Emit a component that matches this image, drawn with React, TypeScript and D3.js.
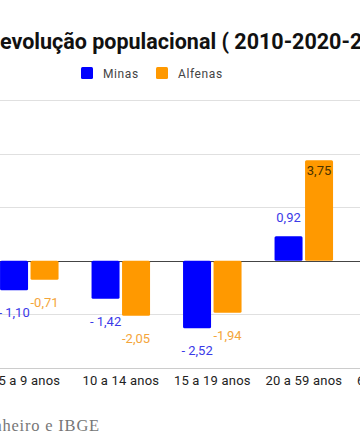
import React from "react";
import * as d3 from "d3";

const categories = ["5 a 9 anos", "10 a 14 anos", "15 a 19 anos", "20 a 59 anos", "60 a 79 anos"];
const seriesNames = ["Minas", "Alfenas"];
const minas: (number | null)[] = [-1.1, -1.42, -2.52, 0.92, null];
const alfenas: (number | null)[] = [-0.71, -2.05, -1.94, 3.75, null];
const yTicks = [-4, -2, 0, 2, 4, 6];
const title = "evolução populacional ( 2010-2020-2021)";
const source = "Fonte: Pinheiro e IBGE";

const W = 360;
const H = 445;
const colors = ["#0000ff", "#ff9900"];
const labelColors = ["#3a3ae8", "#f4a53a"];

export default function App() {
  const x = d3
    .scaleBand<string>()
    .domain(categories)
    .range([-16.45, -16.45 + 91.5 * categories.length])
    .paddingInner(0)
    .paddingOuter(0);
  const step = x.step();
  const xs = d3
    .scaleBand<string>()
    .domain(seriesNames)
    .range([step / 2 - 29.25, step / 2 + 29.25])
    .paddingInner(2.5 / 30.5)
    .paddingOuter(0);
  const y = d3.scaleLinear().domain([-4, 6]).range([368, 100]);
  const data = [minas, alfenas];

  const fmt = (v: number, s: number) => {
    const abs = Math.abs(v).toFixed(2).replace(".", ",");
    if (v < 0) return (s === 0 ? "- " : "-") + abs;
    return abs;
  };

  return (
    <svg
      width={W}
      height={H}
      style={{ position: "absolute", left: 0, top: 0, background: "#fff" }}
      fontFamily="Roboto, sans-serif"
    >
      <rect x={0} y={0} width={W} height={H} fill="#fff" />
      <text x={0} y={48.5} fontSize={21.5} fontWeight="bold" fill="#111">
        {title}
      </text>
      {seriesNames.map((s, i) => (
        <g key={s} transform={`translate(${[81, 156][i]},67)`}>
          <rect width={12} height={12} rx={1.5} fill={colors[i]} />
          <text x={22} y={10.5} fontSize={12} fill="#444" letterSpacing={0.6}>
            {s}
          </text>
        </g>
      ))}
      {yTicks.map((t) => (
        <line
          key={t}
          x1={0}
          x2={W}
          y1={Math.round(y(t)) + 0.5}
          y2={Math.round(y(t)) + 0.5}
          stroke={t === 0 ? "#444" : t === -4 ? "#ccc" : "#e0e0e0"}
          strokeWidth={t === 0 ? 1.2 : 1}
        />
      ))}
      {categories.map((c, ci) => (
        <g key={c} transform={`translate(${x(c)},0)`}>
          {data.map((series, si) => {
            const v = series[ci];
            if (v === null) return null;
            const bx = xs(seriesNames[si])!;
            const bw = xs.bandwidth();
            const y0 = y(0);
            const y1 = y(v);
            const top = Math.min(y0, y1);
            const h = Math.abs(y1 - y0);
            let ly: number;
            let lc = labelColors[si];
            if (v < 0) ly = y1 + 27;
            else if (h > 80) {
              ly = y1 + 15;
              lc = "#4a3300";
            } else ly = y1 - 14;
            return (
              <g key={si}>
                <rect x={bx} y={top} width={bw} height={h} rx={1.5} fill={colors[si]} />
                <text
                  x={bx + bw / 2}
                  y={ly}
                  textAnchor="middle"
                  fontSize={13}
                  fill={lc}
                >
                  {fmt(v, si)}
                </text>
              </g>
            );
          })}
          <text x={step / 2} y={385} textAnchor="middle" fontSize={13} fill="#222" letterSpacing={0.2}>
            {c}
          </text>
        </g>
      ))}
      <text
        x={100}
        y={431}
        textAnchor="end"
        fontFamily="'Liberation Serif', 'DejaVu Serif', serif"
        fontSize={16.5}
        letterSpacing={0.8}
        fill="#777"
      >
        {source}
      </text>
    </svg>
  );
}
